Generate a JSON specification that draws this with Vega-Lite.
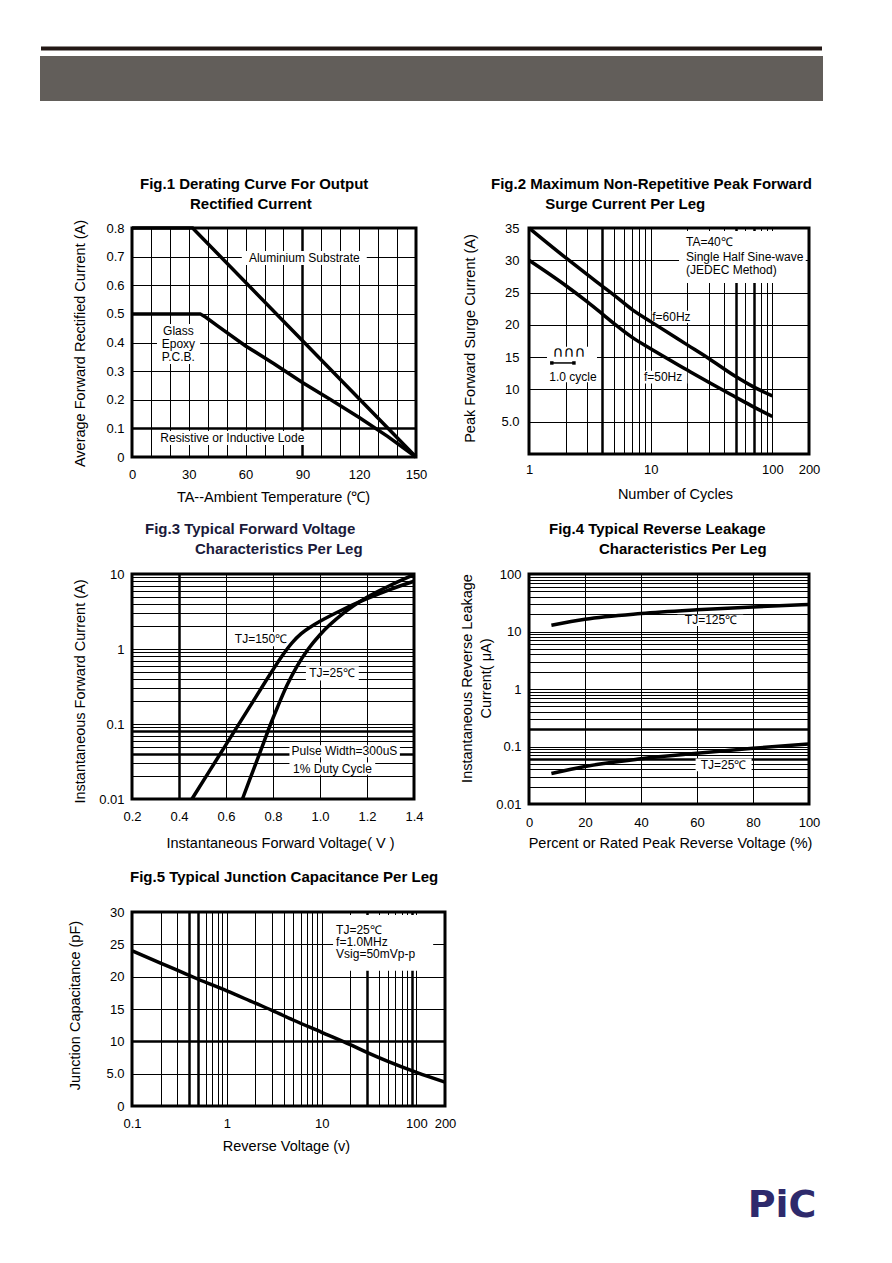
{
"$schema": "https://vega.github.io/schema/vega-lite/v6.json",
"background": "white",
"padding": 0,
"columns": 4,
"align": "each",
"bounds": "flush",
"spacing": 0,
"config": {
  "view": {"stroke": null},
  "axis": {"domain": false, "ticks": false, "grid": true, "gridColor": "#000", "gridOpacity": 1, "labelFont": "Liberation Sans", "labelFontSize": 13, "labelColor": "#000", "titleFont": "Liberation Sans", "titleFontSize": 14.5, "titleFontWeight": "normal", "titleColor": "#000", "labelFlush": false, "labelOverlap": false, "labelBound": false},
  "axisX": {"labelBaseline": "middle", "titleBaseline": "middle", "titleAlign": "center", "titleAngle": 0},
  "axisY": {"labelAlign": "right", "labelBaseline": "middle", "titleAngle": 270, "titleAlign": "center", "titleBaseline": "middle"},
  "title": {"font": "Liberation Sans", "fontSize": 15, "fontWeight": "bold", "anchor": "start", "frame": "group", "baseline": "bottom", "lineHeight": 20, "color": "#000"},
  "text": {"font": "Liberation Sans", "fontSize": 12, "color": "#000"}
},
"concat": [
  {"width": 132, "height": 228,
   "data": {"values": [
     {"x": 0, "x2": 892, "y": 0, "y2": 228, "c": "page"},
     {"x": 41, "x2": 822, "y": 46.5, "y2": 50.5, "c": "line"},
     {"x": 40, "x2": 823, "y": 56, "y2": 101, "c": "bar"}]},
   "mark": {"type": "rect"},
   "encoding": {
     "x": {"field": "x", "type": "quantitative", "scale": {"domain": [0, 132], "nice": false, "zero": false}, "axis": null},
     "x2": {"field": "x2"},
     "y": {"field": "y", "type": "quantitative", "scale": {"domain": [0, 228], "nice": false, "zero": false, "reverse": true}, "axis": null},
     "y2": {"field": "y2"},
     "color": {"field": "c", "type": "nominal", "scale": {"domain": ["page", "line", "bar"], "range": ["#ffffff", "#231815", "#625e5a"]}, "legend": null}
   }},
  {"width": 313, "height": 228, "data": {"values": []}, "mark": "point"},
  {"width": 84, "height": 228, "data": {"values": []}, "mark": "point"},
  {"width": 280, "height": 228, "data": {"values": []}, "mark": "point"},

  {"width": 132, "height": 229, "data": {"values": []}, "mark": "point"},
  {"width": 284, "height": 229,
   "view": {"stroke": "#000", "strokeWidth": 3},
   "title": {"text": ["Fig.1 Derating Curve For Output", "\u200b\u00a0\u00a0\u00a0\u00a0\u00a0\u00a0\u00a0\u00a0\u00a0\u00a0\u00a0\u00a0Rectified Current"], "dx": 8, "offset": 7},
   "encoding": {
     "x": {"field": "x", "type": "quantitative", "scale": {"domain": [0, 150], "nice": false, "zero": false},
       "axis": {"values": [0,10,20,30,40,50,60,70,80,90,100,110,120,130,140,150], "labelExpr": "datum.value % 30 == 0 ? datum.label : ''", "gridWidth": {"condition": {"test": "datum.value == 90", "value": 2.5}, "value": 1}, "labelPadding": 17, "title": "TA--Ambient Temperature (\u2103)", "titleX": 141, "titleY": 40}},
     "y": {"field": "y", "type": "quantitative", "scale": {"domain": [0, 0.8], "nice": false, "zero": false},
       "axis": {"values": [0,0.1,0.2,0.3,0.4,0.5,0.6,0.7,0.8], "format": ".1~f", "gridWidth": {"condition": {"test": "datum.value == 0.1", "value": 2.5}, "value": 1}, "labelPadding": 8, "title": "Average Forward Rectified Current (A)", "titleX": -52, "titleY": 115}}
   },
   "layer": [
     {"data": {"values": [
       {"x": 58, "x2": 124, "y": 0.671, "y2": 0.72},
       {"x": 13.2, "x2": 36, "y": 0.325, "y2": 0.465},
       {"x": 12, "x2": 94, "y": 0.042, "y2": 0.091}]},
      "mark": {"type": "rect", "color": "#fff"},
      "encoding": {"x2": {"field": "x2"}, "y2": {"field": "y2"}}},
     {"data": {"values": [
       {"s": "Aluminium", "x": 0, "y": 0.8}, {"s": "Aluminium", "x": 32, "y": 0.8}, {"s": "Aluminium", "x": 150, "y": 0},
       {"s": "Glass", "x": 0, "y": 0.5}, {"s": "Glass", "x": 36, "y": 0.5}, {"s": "Glass", "x": 39, "y": 0.488},
       {"s": "Glass", "x": 45, "y": 0.459}, {"s": "Glass", "x": 60, "y": 0.388}, {"s": "Glass", "x": 75, "y": 0.326},
       {"s": "Glass", "x": 90, "y": 0.26}, {"s": "Glass", "x": 105, "y": 0.2}, {"s": "Glass", "x": 120, "y": 0.138},
       {"s": "Glass", "x": 135, "y": 0.072}, {"s": "Glass", "x": 150, "y": 0}]},
      "mark": {"type": "line", "color": "#000", "strokeWidth": 3.5},
      "encoding": {"detail": {"field": "s"}}},
     {"data": {"values": [
       {"x": 91, "y": 0.695, "t": "Aluminium Substrate"},
       {"x": 24.5, "y": 0.44, "t": "Glass"},
       {"x": 24.5, "y": 0.395, "t": "Epoxy"},
       {"x": 24.5, "y": 0.35, "t": "P.C.B."},
       {"x": 53, "y": 0.066, "t": "Resistive or Inductive Lode"}]},
      "mark": {"type": "text", "align": "center", "baseline": "middle"},
      "encoding": {"text": {"field": "t"}}}
   ]},
  {"width": 84, "height": 229, "data": {"values": []}, "mark": "point"},
  {"width": 280, "height": 226,
   "view": {"stroke": "#000", "strokeWidth": 3},
   "title": {"text": ["Fig.2 Maximum Non-Repetitive Peak Forward", "\u200b\u00a0\u00a0\u00a0\u00a0\u00a0\u00a0\u00a0\u00a0\u00a0\u00a0\u00a0\u00a0\u00a0Surge Current Per Leg"], "dx": -38, "offset": 9},
   "encoding": {
     "x": {"field": "x", "type": "quantitative", "scale": {"type": "log", "domain": [1, 200], "nice": false},
       "axis": {"values": [1,2,3,4,5,6,7,8,9,10,20,30,40,50,60,70,80,90,100,200], "format": "~g", "labelExpr": "indexof([1,10,100,200], datum.value) >= 0 ? datum.label : ''", "gridWidth": {"condition": {"test": "datum.value == 4 || datum.value == 50 || datum.value == 70", "value": 2.5}, "value": 1}, "labelPadding": 15, "title": "Number of Cycles", "titleX": 146, "titleY": 40}},
     "y": {"field": "y", "type": "quantitative", "scale": {"domain": [0, 35], "nice": false, "zero": false},
       "axis": {"values": [0,5,10,15,20,25,30,35], "labelExpr": "datum.value == 0 ? '' : datum.value == 5 ? '5.0' : datum.label", "labelPadding": 10, "title": "Peak Forward Surge Current (A)", "titleX": -59, "titleY": 110}}
   },
   "layer": [
     {"data": {"values": [
       {"x": 17.1, "x2": 188, "y": 26.5, "y2": 34.55},
       {"x": 1.406, "x2": 3.62, "y": 11.1, "y2": 16.6},
       {"x": 10.2, "x2": 24, "y": 20.3, "y2": 22.2},
       {"x": 8.7, "x2": 20, "y": 10.9, "y2": 12.9}]},
      "mark": {"type": "rect", "color": "#fff"},
      "encoding": {"x2": {"field": "x2"}, "y2": {"field": "y2"}}},
     {"data": {"values": [
       {"s": "60Hz", "x": 1, "y": 35}, {"s": "60Hz", "x": 2, "y": 30.4}, {"s": "60Hz", "x": 3, "y": 27.8}, {"s": "60Hz", "x": 4, "y": 26}, {"s": "60Hz", "x": 5, "y": 24.6}, {"s": "60Hz", "x": 7, "y": 22.4}, {"s": "60Hz", "x": 10, "y": 20.5}, {"s": "60Hz", "x": 20, "y": 16.9}, {"s": "60Hz", "x": 30, "y": 14.8}, {"s": "60Hz", "x": 50, "y": 12}, {"s": "60Hz", "x": 70, "y": 10.4}, {"s": "60Hz", "x": 100, "y": 9},
       {"s": "50Hz", "x": 1, "y": 30}, {"s": "50Hz", "x": 2, "y": 26.1}, {"s": "50Hz", "x": 3, "y": 23.6}, {"s": "50Hz", "x": 4, "y": 21.7}, {"s": "50Hz", "x": 5, "y": 20.2}, {"s": "50Hz", "x": 7, "y": 18.1}, {"s": "50Hz", "x": 10, "y": 16.3}, {"s": "50Hz", "x": 20, "y": 13}, {"s": "50Hz", "x": 30, "y": 11.1}, {"s": "50Hz", "x": 50, "y": 8.8}, {"s": "50Hz", "x": 70, "y": 7.3}, {"s": "50Hz", "x": 100, "y": 5.8}]},
      "mark": {"type": "line", "color": "#000", "strokeWidth": 3.5, "interpolate": "monotone"},
      "encoding": {"detail": {"field": "s"}}},
     {"data": {"values": [{"x": 1.54, "x2": 2.34, "y": 14.1}]},
      "mark": {"type": "rule", "color": "#000", "strokeWidth": 1.5},
      "encoding": {"x2": {"field": "x2"}}},
     {"data": {"values": [{"x": 1.54, "y": 14.1}, {"x": 2.34, "y": 14.1}]},
      "mark": {"type": "square", "color": "#000", "filled": true, "size": 12, "opacity": 1}},
     {"data": {"values": [
       {"x": 19.5, "y": 32.8, "t": "TA=40\u2103"},
       {"x": 19.5, "y": 30.5, "t": "Single Half Sine-wave"},
       {"x": 19.5, "y": 28.5, "t": "(JEDEC Method)"},
       {"x": 10.3, "y": 21.2, "t": "f=60Hz"},
       {"x": 8.8, "y": 11.9, "t": "f=50Hz"}]},
      "mark": {"type": "text", "align": "left", "baseline": "middle"},
      "encoding": {"text": {"field": "t"}}},
     {"data": {"values": [
       {"x": 2.3, "y": 11.9, "t": "1.0 cycle"}]},
      "mark": {"type": "text", "align": "center", "baseline": "middle"},
      "encoding": {"text": {"field": "t"}}},
     {"data": {"values": [
       {"x": 2.13, "y": 15.8, "t": "\u2229\u2229\u2229"}]},
      "mark": {"type": "text", "align": "center", "baseline": "middle", "font": "DejaVu Sans", "fontSize": 15},
      "encoding": {"text": {"field": "t"}}}
   ]},

  {"width": 132, "height": 117, "data": {"values": []}, "mark": "point"},
  {"width": 282, "height": 117, "data": {"values": []}, "mark": "point"},
  {"width": 84, "height": 117, "data": {"values": []}, "mark": "point"},
  {"width": 280, "height": 117, "data": {"values": []}, "mark": "point"},

  {"width": 132, "height": 230, "data": {"values": []}, "mark": "point"},
  {"width": 282, "height": 225,
   "view": {"stroke": "#000", "strokeWidth": 3},
   "title": {"text": ["Fig.3 Typical Forward Voltage", "\u200b\u00a0\u00a0\u00a0\u00a0\u00a0\u00a0\u00a0\u00a0\u00a0\u00a0\u00a0\u00a0Characteristics Per Leg"], "dx": 13, "offset": 11, "color": "#1a1a3a"},
   "encoding": {
     "x": {"field": "x", "type": "quantitative", "scale": {"domain": [0.2, 1.4], "nice": false, "zero": false},
       "axis": {"values": [0.2,0.4,0.6,0.8,1,1.2,1.4], "format": ".1f", "gridWidth": {"condition": {"test": "datum.value == 0.4", "value": 2.5}, "value": 1}, "labelPadding": 17, "title": "Instantaneous Forward Voltage( V )", "titleX": 148, "titleY": 44}},
     "y": {"field": "y", "type": "quantitative", "scale": {"type": "log", "domain": [0.01, 10], "nice": false},
       "axis": {"values": [0.01,0.02,0.03,0.04,0.05,0.06,0.07,0.08,0.09,0.1,0.2,0.3,0.4,0.5,0.6,0.7,0.8,0.9,1,2,3,4,5,6,7,8,9,10], "format": "~g", "labelExpr": "indexof([0.01,0.1,1,10], datum.value) >= 0 ? datum.label : ''", "gridWidth": {"condition": {"test": "datum.value == 0.04 || datum.value == 0.08", "value": 2.5}, "value": 1}, "labelPadding": 8, "title": "Instantaneous Forward Current (A)", "titleX": -52, "titleY": 117}}
   },
   "layer": [
     {"data": {"values": [
       {"x": 0.625, "x2": 0.87, "y": 1.09, "y2": 1.69},
       {"x": 0.94, "x2": 1.165, "y": 0.38, "y2": 0.59},
       {"x": 0.87, "x2": 1.34, "y": 0.036, "y2": 0.052},
       {"x": 0.87, "x2": 1.235, "y": 0.0211, "y2": 0.0306}]},
      "mark": {"type": "rect", "color": "#fff"},
      "encoding": {"x2": {"field": "x2"}, "y2": {"field": "y2"}}},
     {"data": {"values": [
       {"s": "150", "x": 0.455, "y": 0.01}, {"s": "150", "x": 0.53, "y": 0.0237}, {"s": "150", "x": 0.6, "y": 0.053}, {"s": "150", "x": 0.7, "y": 0.168}, {"s": "150", "x": 0.8, "y": 0.53}, {"s": "150", "x": 0.84, "y": 0.82}, {"s": "150", "x": 0.88, "y": 1.2}, {"s": "150", "x": 0.92, "y": 1.6}, {"s": "150", "x": 0.96, "y": 1.97}, {"s": "150", "x": 1.0, "y": 2.34}, {"s": "150", "x": 1.1, "y": 3.39}, {"s": "150", "x": 1.2, "y": 4.68}, {"s": "150", "x": 1.3, "y": 6.24}, {"s": "150", "x": 1.4, "y": 8.0},
       {"s": "25", "x": 0.67, "y": 0.01}, {"s": "25", "x": 0.7, "y": 0.0178}, {"s": "25", "x": 0.73, "y": 0.0316}, {"s": "25", "x": 0.76, "y": 0.0562}, {"s": "25", "x": 0.79, "y": 0.1}, {"s": "25", "x": 0.82, "y": 0.17}, {"s": "25", "x": 0.86, "y": 0.33}, {"s": "25", "x": 0.9, "y": 0.575}, {"s": "25", "x": 0.95, "y": 1.0}, {"s": "25", "x": 1.0, "y": 1.55}, {"s": "25", "x": 1.1, "y": 3.0}, {"s": "25", "x": 1.2, "y": 4.9}, {"s": "25", "x": 1.3, "y": 7.08}, {"s": "25", "x": 1.4, "y": 9.8}]},
      "mark": {"type": "line", "color": "#000", "strokeWidth": 3.5, "interpolate": "monotone"},
      "encoding": {"detail": {"field": "s"}}},
     {"data": {"values": [
       {"x": 0.749, "y": 1.36, "t": "TJ=150\u2103"},
       {"x": 1.051, "y": 0.474, "t": "TJ=25\u2103"},
       {"x": 1.104, "y": 0.0432, "t": "Pulse Width=300uS"},
       {"x": 1.053, "y": 0.0254, "t": "1% Duty Cycle"}]},
      "mark": {"type": "text", "align": "center", "baseline": "middle"},
      "encoding": {"text": {"field": "t"}}}
   ]},
  {"width": 84, "height": 230, "data": {"values": []}, "mark": "point"},
  {"width": 280, "height": 230,
   "view": {"stroke": "#000", "strokeWidth": 3},
   "title": {"text": ["Fig.4 Typical Reverse Leakage", "\u200b\u00a0\u00a0\u00a0\u00a0\u00a0\u00a0\u00a0\u00a0\u00a0\u00a0\u00a0\u00a0Characteristics Per Leg"], "dx": 20, "offset": 11},
   "encoding": {
     "x": {"field": "x", "type": "quantitative", "scale": {"domain": [0, 100], "nice": false, "zero": false},
       "axis": {"values": [0,20,40,60,80,100], "labelPadding": 18, "title": "Percent or Rated Peak Reverse Voltage (%)", "titleX": 141, "titleY": 39}},
     "y": {"field": "y", "type": "quantitative", "scale": {"type": "log", "domain": [0.01, 100], "nice": false},
       "axis": {"values": [0.01,0.02,0.03,0.04,0.05,0.06,0.07,0.08,0.09,0.1,0.2,0.3,0.4,0.5,0.6,0.7,0.8,0.9,1,2,3,4,5,6,7,8,9,10,20,30,40,50,60,70,80,90,100], "format": "~g", "labelExpr": "indexof([0.01,0.1,1,10,100], datum.value) >= 0 ? datum.label : ''", "gridWidth": {"condition": {"test": "datum.value == 0.2 || datum.value == 0.06", "value": 2.5}, "value": 1}, "labelPadding": 8, "title": ["Instantaneous Reverse Leakage", "Current( \u03bcA)"], "titleLineHeight": 19, "titleX": -62, "titleY": 104}}
   },
   "layer": [
     {"data": {"values": [
       {"x": 53, "x2": 76.5, "y": 12.5, "y2": 19.5},
       {"x": 59.5, "x2": 79.5, "y": 0.037, "y2": 0.062}]},
      "mark": {"type": "rect", "color": "#fff"},
      "encoding": {"x2": {"field": "x2"}, "y2": {"field": "y2"}}},
     {"data": {"values": [
       {"s": "125", "x": 8, "y": 12.8}, {"s": "125", "x": 20, "y": 16.3}, {"s": "125", "x": 40, "y": 20.5}, {"s": "125", "x": 60, "y": 23.8}, {"s": "125", "x": 80, "y": 26.8}, {"s": "125", "x": 100, "y": 29.5},
       {"s": "25", "x": 8, "y": 0.034}, {"s": "25", "x": 20, "y": 0.045}, {"s": "25", "x": 40, "y": 0.061}, {"s": "25", "x": 60, "y": 0.076}, {"s": "25", "x": 80, "y": 0.093}, {"s": "25", "x": 100, "y": 0.111}]},
      "mark": {"type": "line", "color": "#000", "strokeWidth": 3.5, "interpolate": "monotone"},
      "encoding": {"detail": {"field": "s"}}},
     {"data": {"values": [
       {"x": 65, "y": 16, "t": "TJ=125\u2103"},
       {"x": 69.5, "y": 0.047, "t": "TJ=25\u2103"}]},
      "mark": {"type": "text", "align": "center", "baseline": "middle"},
      "encoding": {"text": {"field": "t"}}}
   ]},

  {"width": 132, "height": 108, "data": {"values": []}, "mark": "point"},
  {"width": 313, "height": 108, "data": {"values": []}, "mark": "point"},
  {"width": 84, "height": 108, "data": {"values": []}, "mark": "point"},
  {"width": 280, "height": 108, "data": {"values": []}, "mark": "point"},

  {"width": 132, "height": 194, "data": {"values": []}, "mark": "point"},
  {"width": 313, "height": 194,
   "view": {"stroke": "#000", "strokeWidth": 3},
   "title": {"text": "Fig.5 Typical Junction Capacitance Per Leg", "dx": -2, "offset": 21},
   "encoding": {
     "x": {"field": "x", "type": "quantitative", "scale": {"type": "log", "domain": [0.1, 200], "nice": false},
       "axis": {"values": [0.1,0.2,0.3,0.4,0.5,0.6,0.7,0.8,0.9,1,2,3,4,5,6,7,8,9,10,20,30,40,50,60,70,80,90,100,200], "format": "~g", "labelExpr": "indexof([0.1,1,10,100,200], datum.value) >= 0 ? datum.label : ''", "gridWidth": {"condition": {"test": "datum.value == 0.4 || datum.value == 0.5 || datum.value == 30 || datum.value == 90", "value": 2.5}, "value": 1}, "labelPadding": 17, "title": "Reverse Voltage (v)", "titleX": 154, "titleY": 40}},
     "y": {"field": "y", "type": "quantitative", "scale": {"domain": [0, 30], "nice": false, "zero": false},
       "axis": {"values": [0,5,10,15,20,25,30], "labelExpr": "datum.value == 5 ? '5.0' : datum.label", "gridWidth": {"condition": {"test": "datum.value == 10", "value": 2.5}, "value": 1}, "labelPadding": 8, "title": "Junction Capacitance (pF)", "titleX": -57, "titleY": 93}}
   },
   "layer": [
     {"data": {"values": [
       {"x": 13.2, "x2": 150, "y": 20.9, "y2": 29.55}]},
      "mark": {"type": "rect", "color": "#fff"},
      "encoding": {"x2": {"field": "x2"}, "y2": {"field": "y2"}}},
     {"data": {"values": [
       {"x": 0.1, "y": 24}, {"x": 0.2, "y": 22.1}, {"x": 0.3, "y": 21.0}, {"x": 0.5, "y": 19.6}, {"x": 1, "y": 17.8}, {"x": 2, "y": 15.9}, {"x": 3, "y": 14.8}, {"x": 5, "y": 13.3}, {"x": 10, "y": 11.4}, {"x": 20, "y": 9.5}, {"x": 30, "y": 8.3}, {"x": 50, "y": 6.9}, {"x": 100, "y": 5.2}, {"x": 200, "y": 3.7}]},
      "mark": {"type": "line", "color": "#000", "strokeWidth": 3.5, "interpolate": "monotone"},
      "encoding": {}},
     {"data": {"values": [
       {"x": 14.2, "y": 27.2, "t": "TJ=25\u2103"},
       {"x": 14.2, "y": 25.3, "t": "f=1.0MHz"},
       {"x": 14.2, "y": 23.5, "t": "Vsig=50mVp-p"}]},
      "mark": {"type": "text", "align": "left", "baseline": "middle"},
      "encoding": {"text": {"field": "t"}}}
   ]},
  {"width": 84, "height": 40, "data": {"values": []}, "mark": "point"},
  {"width": 280, "height": 40,
   "data": {"values": [{"t": "PiC"}]},
   "mark": {"type": "text", "font": "DejaVu Sans", "fontSize": 38, "fontWeight": "bold", "color": "#2e2a6c", "align": "center", "baseline": "middle", "dx": 113, "dy": 274},
   "encoding": {"text": {"field": "t"}}}
]
}
